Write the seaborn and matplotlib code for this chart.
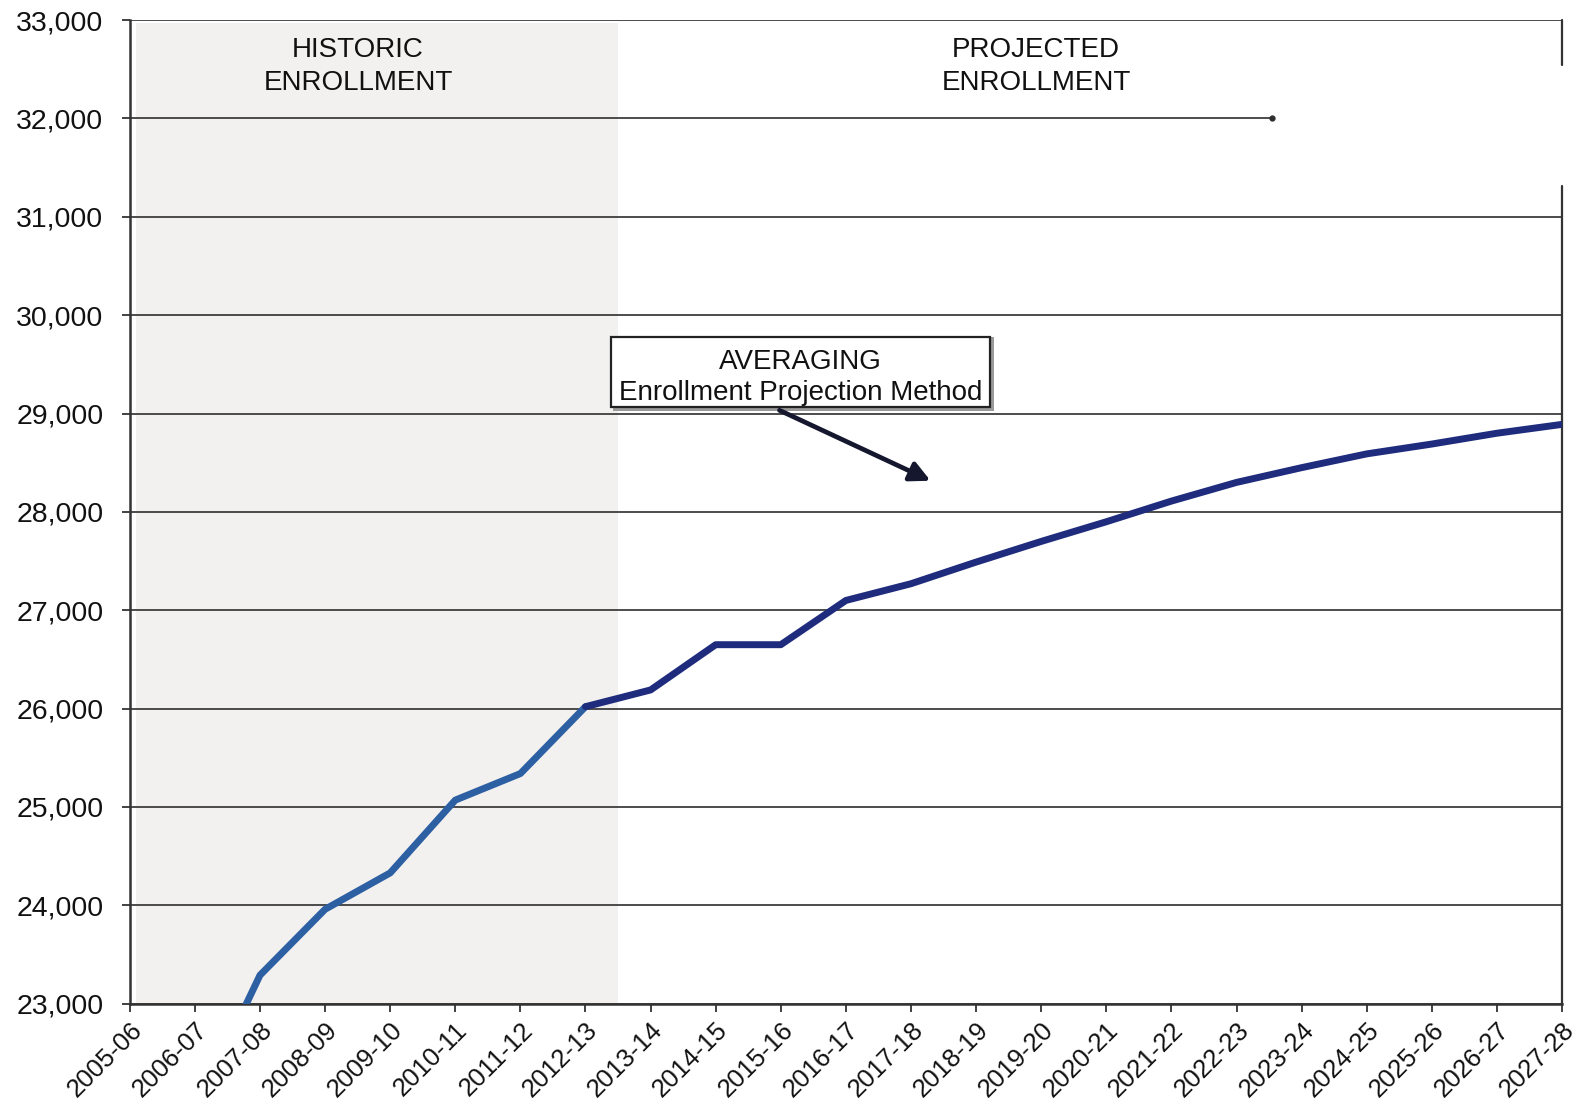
import numpy as np
import pandas as pd
import matplotlib
matplotlib.use("Agg")
import matplotlib.pyplot as plt
from matplotlib.patches import Rectangle
from matplotlib.ticker import FuncFormatter
import seaborn as sns

# School years on the x axis
years = ["2005-06", "2006-07", "2007-08", "2008-09", "2009-10", "2010-11",
         "2011-12", "2012-13", "2013-14", "2014-15", "2015-16", "2016-17",
         "2017-18", "2018-19", "2019-20", "2020-21", "2021-22", "2022-23",
         "2023-24", "2024-25", "2025-26", "2026-27", "2027-28"]

# Historic enrollment (2006-07 .. 2012-13)
historic_years = years[1:8]
historic_values = [21900, 23290, 23960, 24330, 25070, 25340, 26020]

# Projected enrollment, averaging method (2012-13 .. 2027-28)
projected_years = years[7:]
projected_values = [26020, 26190, 26650, 26650, 27100, 27270, 27490, 27700,
                    27900, 28110, 28300, 28450, 28590, 28690, 28800, 28890]

y_ticks = [23000, 24000, 25000, 26000, 27000, 28000, 29000, 30000, 31000, 32000, 33000]

sns.set_theme(style="white")
plt.rcParams["font.family"] = ["Liberation Sans", "DejaVu Sans"]

pos = {y: i for i, y in enumerate(years)}
hist_df = pd.DataFrame({"pos": [pos[y] for y in historic_years], "enrollment": historic_values})
proj_df = pd.DataFrame({"pos": [pos[y] for y in projected_years], "enrollment": projected_values})

fig = plt.figure(figsize=(15.77, 10.99), dpi=100)
ax = fig.add_axes([0.0823, 0.0867, 0.9905 - 0.0823, 0.9817 - 0.0867])
ax.set_facecolor("white")

# Shaded historic period
ax.axvspan(0.1, 7.5, ymax=0.997, color="#f2f1ef", zorder=0, lw=0)

# Horizontal gridlines
grid_col = "#2e2e2e"
for v in y_ticks:
    if v == 32000:
        ax.plot([0, 17.55], [v, v], color=grid_col, lw=1.2, zorder=1)
        ax.plot([17.55], [v], marker="o", ms=3.5, color=grid_col, zorder=1)
    else:
        ax.axhline(v, color=grid_col, lw=1.2, zorder=1)

sns.lineplot(data=hist_df, x="pos", y="enrollment", ax=ax, color="#2d5fa3",
             linewidth=5.0, sort=False, zorder=3)
sns.lineplot(data=proj_df, x="pos", y="enrollment", ax=ax, color="#1f2c7d",
             linewidth=5.0, sort=False, zorder=3)

ax.set_xlim(0, 22)
ax.set_ylim(23000, 33000)
ax.set_xlabel("")
ax.set_ylabel("")

ax.set_xticks(range(len(years)))
ax.set_xticklabels(years, rotation=45, ha="right", rotation_mode="anchor",
                   fontsize=18.5, color="#111111")
ax.set_yticks(y_ticks)
ax.yaxis.set_major_formatter(FuncFormatter(lambda v, p: f"{int(v):,}"))
for lab in ax.get_yticklabels():
    lab.set_fontsize(20.5)
    lab.set_color("#111111")
ax.tick_params(axis="x", which="major", length=6, width=1.3, color="#333333",
               direction="out", pad=4, bottom=True)
ax.tick_params(axis="y", which="major", length=6, width=1.3, color="#333333",
               direction="out", pad=13, left=True)

for side in ["top", "right"]:
    ax.spines[side].set_visible(False)
ax.spines["left"].set_color("#333333")
ax.spines["left"].set_linewidth(1.8)
ax.spines["bottom"].set_color("#333333")
ax.spines["bottom"].set_linewidth(1.8)

# Right-hand frame edge (broken near the top)
ax.axvline(22, ymin=0.954, ymax=1.0, color="#333333", lw=1.6, clip_on=False)
ax.axvline(22, ymin=0.0, ymax=0.831, color="#333333", lw=1.6, clip_on=False)

# Period labels
ax.text(3.507, 32622, "HISTORIC", ha="center", va="baseline", fontsize=20, color="#111111")
ax.text(3.507, 32294, "ENROLLMENT", ha="center", va="baseline", fontsize=20, color="#111111")
ax.text(13.92, 32622, "PROJECTED", ha="center", va="baseline", fontsize=20, color="#111111")
ax.text(13.92, 32294, "ENROLLMENT", ha="center", va="baseline", fontsize=20, color="#111111")

# Method callout box
ax.add_patch(Rectangle((7.43, 29030), 13.27 - 7.43, 29779 - 29030,
                       facecolor="#9a9a9a", edgecolor="none", zorder=4))
ax.add_patch(Rectangle((7.385, 29063), 13.22 - 7.385, 29779 - 29063,
                       facecolor="white", edgecolor="#222222", lw=1.6, zorder=5))
ax.text(10.3, 29452, "AVERAGING", ha="center", va="baseline", fontsize=20,
        color="#111111", zorder=6)
ax.text(10.3, 29135, "Enrollment Projection Method", ha="center", va="baseline",
        fontsize=20, color="#111111", zorder=6)
ax.annotate("", xy=(12.30, 28317), xytext=(9.98, 29033),
            arrowprops=dict(arrowstyle="-|>", color="#15172e", lw=3.4,
                            mutation_scale=30, shrinkA=0, shrinkB=0),
            zorder=6)

fig.savefig("out.png", dpi=100, facecolor="white")
